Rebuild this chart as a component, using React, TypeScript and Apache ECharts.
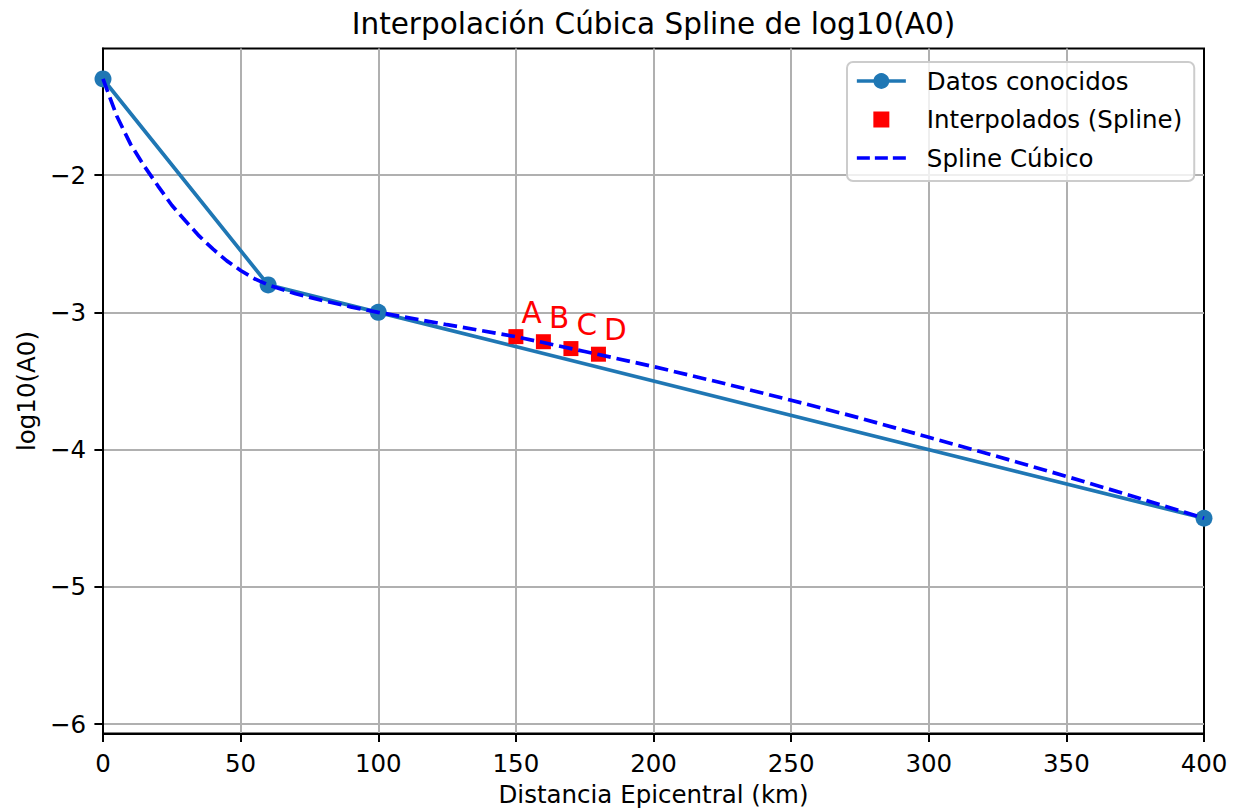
import React, { useEffect, useRef } from 'react';
import * as echarts from 'echarts';

// ---- Data ----
const knownX = [0, 60, 100, 400];
const knownY = [-1.3, -2.8, -3.0, -4.5];

const interpX = [150, 160, 170, 180];
const interpY = [-3.177, -3.214, -3.264, -3.305];
const interpLabels = ['A', 'B', 'C', 'D'];

const splineX = [0, 5, 10, 15, 20, 25, 30, 35, 40, 45, 50, 55, 60, 70, 80, 90, 100, 125, 150, 175, 200, 225, 250, 275, 300, 325, 350, 375, 400];
const splineY = [-1.3, -1.57, -1.775, -1.935, -2.08, -2.22, -2.335, -2.445, -2.54, -2.625, -2.695, -2.755, -2.8, -2.865, -2.915, -2.96, -3.0, -3.09, -3.177, -3.285, -3.395, -3.515, -3.64, -3.77, -3.91, -4.05, -4.195, -4.345, -4.5];

const yTicks = [-6, -5, -4, -3, -2];
const seriesNames = ['Datos conocidos', 'Interpolados (Spline)', 'Spline Cúbico'];
const chartTitle = 'Interpolación Cúbica Spline de log10(A0)';
const xLabel = 'Distancia Epicentral (km)';
const yLabel = 'log10(A0)';

const FONT = 'DejaVu Sans';
const fmtMinus = (v: number) => (v < 0 ? '\u2212' + String(Math.abs(v)) : String(v));

export default function App() {
  const ref = useRef<HTMLDivElement>(null);

  useEffect(() => {
    if (!ref.current) return;
    const chart = echarts.init(ref.current, null, { renderer: 'svg' });

    const option: any = {
      animation: false,
      backgroundColor: '#ffffff',
      textStyle: { fontFamily: FONT },
      title: {
        text: chartTitle,
        left: 653.5,
        top: 9,
        textAlign: 'center',
        padding: 0,
        textStyle: { fontSize: 29.5, fontWeight: 'normal', color: '#000', fontFamily: FONT },
      },
      grid: {
        left: 103,
        right: 30,
        top: 48.5,
        bottom: 75.5,
        show: true,
        borderColor: '#000',
        borderWidth: 2,
        backgroundColor: 'transparent',
        containLabel: false,
        outerBoundsMode: 'none',
      },
      legend: {
        orient: 'vertical',
        left: 847,
        top: 62,
        padding: [5, 12, 9, 8],
        itemGap: 10.5,
        itemWidth: 49,
        itemHeight: 16,
        symbolKeepAspect: true,
        backgroundColor: 'rgba(255,255,255,0.8)',
        borderColor: '#cccccc',
        borderWidth: 2,
        borderRadius: 6,
        selectedMode: false,
        textStyle: { fontSize: 24.5, color: '#000', fontFamily: FONT, lineHeight: 28, padding: [0, 0, 0, 16] },
        data: [
          {
            name: seriesNames[0],
            lineStyle: { width: 3.7 },
            itemStyle: { borderWidth: 3, borderColor: '#1f77b4' },
          },
          {
            name: seriesNames[1],
            icon: 'path://M0,0h16v16h-16z',
            itemStyle: { borderWidth: 0, opacity: 1 },
          },
          {
            name: seriesNames[2],
            icon: 'path://M0,0h13v3.7h-13zM18,0h13v3.7h-13zM36,0h13v3.7h-13z',
            itemStyle: { borderWidth: 0 },
          },
        ],
      },
      xAxis: {
        type: 'value',
        min: 0,
        max: 400,
        interval: 50,
        name: xLabel,
        nameLocation: 'middle',
        nameGap: 48,
        nameTextStyle: { fontSize: 24.5, color: '#000', fontFamily: FONT },
        axisLine: { show: true, onZero: false, lineStyle: { color: '#000', width: 2 } },
        axisTick: { show: true, inside: false, length: 8.6, lineStyle: { color: '#000', width: 2 } },
        axisLabel: { margin: 17, fontSize: 24.5, color: '#000', fontFamily: FONT, formatter: fmtMinus },
        splitLine: { show: true, showMinLine: false, showMaxLine: false, lineStyle: { color: '#b0b0b0', width: 2 } },
      },
      yAxis: {
        type: 'value',
        min: -6.068,
        max: -1.078,
        splitNumber: 5,
        name: yLabel,
        nameLocation: 'middle',
        nameGap: 64,
        nameRotate: 90,
        nameTextStyle: { fontSize: 24.5, color: '#000', fontFamily: FONT },
        axisLine: { show: true, onZero: false, lineStyle: { color: '#000', width: 2 } },
        axisTick: { show: true, inside: false, length: 8.6, customValues: yTicks, lineStyle: { color: '#000', width: 2 } },
        axisLabel: {
          margin: 17,
          fontSize: 24.5,
          color: '#000',
          fontFamily: FONT,
          customValues: yTicks,
          formatter: fmtMinus,
        },
        splitLine: { show: true, lineStyle: { color: '#b0b0b0', width: 2 } },
      },
      series: [
        {
          name: seriesNames[0],
          type: 'line',
          data: knownX.map((x, i) => [x, knownY[i]]),
          symbol: 'circle',
          symbolSize: 17,
          showAllSymbol: true,
          itemStyle: { color: '#1f77b4' },
          lineStyle: { color: '#1f77b4', width: 3.7 },
          clip: true,
          z: 2,
        },
        {
          name: seriesNames[1],
          type: 'scatter',
          data: interpX.map((x, i) => ({ value: [x, interpY[i]], name: interpLabels[i] })),
          symbol: 'rect',
          symbolSize: 15,
          itemStyle: { color: '#ff0000', opacity: 1 },
          label: {
            show: true,
            formatter: (p: any) => p.name,
            position: [13, -16.4],
            align: 'left',
            verticalAlign: 'middle',
            fontSize: 29.5,
            color: '#ff0000',
            opacity: 1,
            fontFamily: FONT,
          },
          z: 3,
        },
        {
          name: seriesNames[2],
          type: 'line',
          data: splineX.map((x, i) => [x, splineY[i]]),
          symbol: 'none',
          showSymbol: false,
          itemStyle: { color: '#0000ff' },
          lineStyle: { color: '#0000ff', width: 3.7, type: [13.7, 5.9] },
          clip: true,
          z: 4,
        },
      ],
    };

    chart.setOption(option);
    return () => {
      chart.dispose();
    };
  }, []);

  return (
    <div
      ref={ref}
      style={{ position: 'absolute', left: 0, top: 0, width: 1234, height: 809 }}
    />
  );
}
